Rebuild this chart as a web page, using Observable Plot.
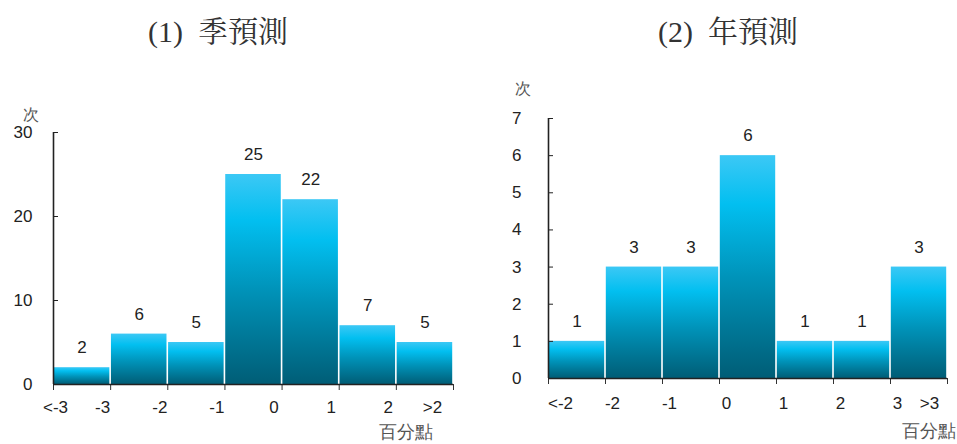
<!DOCTYPE html>
<html><head><meta charset="utf-8">
<script src="https://cdn.jsdelivr.net/npm/d3@7"></script>
<script src="https://cdn.jsdelivr.net/npm/@observablehq/plot@0.6"></script>
<style>
body{margin:0;background:#fff;}
#wrap{position:relative;width:957px;height:444px;overflow:hidden;font-family:"Liberation Sans",Arial,sans-serif;}
.title{position:absolute;top:7px;font-family:"Liberation Serif","Noto Serif CJK TC","Noto Sans CJK TC",serif;font-size:30px;color:#333;white-space:pre;transform:translateX(-50%);}
.panel{position:absolute;top:0;}
</style></head><body>
<div id="wrap">
  <div class="title" id="t1" style="left:218px"></div>
  <div class="title" id="t2" style="left:728px"></div>
  <div class="panel" id="p1" style="left:0px"></div>
  <div class="panel" id="p2" style="left:479px"></div>
</div>
<script>
// ---- data ----
const quarterTitle = "(1)  季預測";
const annualTitle = "(2)  年預測";
const quarterLabels = ["<-3","-3","-2","-1","0","1","2",">2"];
const quarterCounts = [2,6,5,25,22,7,5];
const quarterYTicks = [0,10,20,30];
const annualLabels = ["<-2","-2","-1","0","1","2","3",">3"];
const annualCounts = [1,3,3,6,1,1,3];
const annualYTicks = [0,1,2,3,4,5,6,7];
const yUnit = "次";
const xUnit = "百分點";

document.getElementById("t1").textContent = quarterTitle;
document.getElementById("t2").textContent = annualTitle;

const defs = () => {
  const d = d3.create("svg:defs");
  const g = d.append("linearGradient").attr("id","barGrad")
    .attr("x1",0).attr("y1",0).attr("x2",0).attr("y2",1);
  [[0,"#3cc8f5"],[0.22,"#02bff0"],[0.55,"#0093b9"],[1,"#005d76"]]
    .forEach(([o,c]) => g.append("stop").attr("offset",o).attr("stop-color",c));
  return d.node();
};

function panel(o) {
  const n = o.counts.length;
  const bars = o.counts.map((v,i) => ({i, v}));
  const edges = o.labels.map((l,i) => ({i, l}));
  return Plot.plot({
    width: o.width, height: 444,
    marginLeft: o.mL, marginRight: o.mR, marginTop: o.mT, marginBottom: o.mB,
    x: {domain: [0, n], axis: null, label: null},
    y: {domain: [0, o.yMax], axis: null, label: null},
    style: {fontFamily: '"Liberation Sans", Arial, sans-serif', fontSize: "16px", color: "#222", background: "transparent", overflow: "visible"},
    marks: [
      defs,
      Plot.rectY(bars, {x1: "i", x2: d => d.i + 1, y1: 0, y2: "v", fill: "url(#barGrad)", insetLeft: 0.8, insetRight: 0.8}),
      Plot.text(bars, {x: d => d.i + 0.5, y: "v", text: d => String(d.v), dy: -20, fontSize: 17, fill: "#222"}),
      Plot.axisY(o.yTicks, {tickSize: -5, tickFormat: () => "", label: null, stroke: "#222"}),
      Plot.text(o.yTicks, {y: d => d, text: d => String(d), frameAnchor: "left", textAnchor: "end", dx: o.yDx, fontSize: 17, fill: "#222"}),
      Plot.axisX(d3.range(n + 1), {tickSize: 6, tickFormat: () => "", label: null, stroke: "#333"}),
      Plot.ruleX([0], {stroke: "#222", strokeWidth: 1.6}),
      Plot.ruleY([0], {stroke: "#222", strokeWidth: 1.6}),
      Plot.text(edges.slice(1, -1), {x: "i", text: "l", frameAnchor: "bottom", dy: o.lblDy, dx: o.midDx, fontSize: 17, fill: "#222"}),
      Plot.text(edges.slice(0, 1), {x: "i", text: "l", frameAnchor: "bottom", dy: o.lblDy, dx: o.firstDx, fontSize: 17, fill: "#222"}),
      Plot.text(edges.slice(-1), {x: "i", text: "l", frameAnchor: "bottom", dy: o.lblDy, dx: o.lastDx, fontSize: 17, fill: "#222"}),
      Plot.text([yUnit], {frameAnchor: "top-left", text: d => d, dx: o.unitYdx, dy: o.unitYdy, fontSize: 16, fill: "#555"}),
      Plot.text([xUnit], {frameAnchor: "bottom-right", text: d => d, textAnchor: "end", dx: o.unitXdx, dy: o.unitXdy, fontSize: 17.5, fill: "#555"})
    ]
  });
}

document.getElementById("p1").append(panel({
  labels: quarterLabels, counts: quarterCounts, yTicks: quarterYTicks, yMax: 30,
  width: 478, mL: 53, mR: 25, mT: 132, mB: 60,
  yDx: -21, lblDy: 28, midDx: -8, firstDx: 2, lastDx: -21,
  unitYdx: -31, unitYdy: -24, unitXdx: -21, unitXdy: 53
}));
document.getElementById("p2").append(panel({
  labels: annualLabels, counts: annualCounts, yTicks: annualYTicks, yMax: 7,
  width: 478, mL: 69, mR: 10, mT: 118, mB: 66,
  yDx: -27, lblDy: 30, midDx: 7, firstDx: 12, lastDx: -18,
  unitYdx: -34, unitYdy: -36, unitXdx: 8, unitXdy: 58
}));
</script>
</body></html>
